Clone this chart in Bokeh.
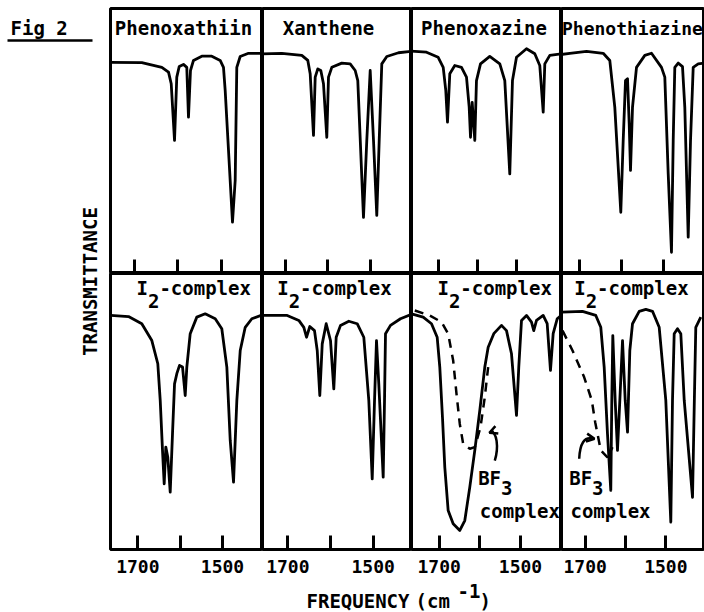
import math
from bokeh.plotting import figure
from bokeh.layouts import row, column
from bokeh.models import Range1d, FixedTicker, Label, Arrow, OpenHead
from bokeh.embed import file_html
from bokeh.resources import INLINE

FONT = "DejaVu Sans Mono"
FS = "19px"
CW = 11.44  # monospace advance in px at 19px

# ---------------- data (frequency cm-1, transmittance % of panel) ----------------
top_titles = ["Phenoxathiin", "Xanthene", "Phenoxazine", "Phenothiazine"]
complex_parts = ["I", "2", "-complex"]
bf3_parts = ["BF", "3", "complex"]
tick_values = [1700, 1600, 1500]
tick_text = ["1700", "", "1500"]
x_title_parts = ["FREQUENCY", "(cm", "-1", ")"]
y_title = "TRANSMITTANCE"
fig_title = "Fig 2"

phenoxathiin_f = [1758, 1683.2, 1637.2, 1621.8, 1615.6, 1608, 1602.8, 1597.2, 1587.4, 1579.8,
                  1575.9, 1571.3, 1564.4, 1545.3, 1522.3, 1503, 1495.4, 1491.5, 1474.7, 1468.5,
                  1464.8, 1457, 1437.9, 1400]
phenoxathiin_t = [79.7, 79.6, 77.8, 76, 71.6, 50.2, 74.1, 78.1, 78.9, 77.8,
                  59, 76.6, 80.4, 82, 82, 80.4, 77.8, 69.1, 19.4, 35.1,
                  77.8, 81.9, 83.1, 83.1]

xanthene_f = [1758, 1708.7, 1661.6, 1647.5, 1641.9, 1634.1, 1630.1, 1624, 1616.9, 1610.6,
              1602.8, 1598.8, 1591, 1567.5, 1547.8, 1536, 1529.9, 1516.5, 1508.7, 1500.7,
              1492.9, 1485.2, 1479.5, 1473.4, 1461.6, 1434.1, 1400]
xanthene_t = [82.9, 83.1, 82.3, 80.4, 75.4, 52.1, 74.1, 77.2, 76.6, 71.6,
              51.4, 74.1, 77.8, 79.4, 79.1, 76.6, 72.8, 21.2, 50.2, 76.6,
              50.2, 21.9, 50.2, 79.1, 81.9, 83.3, 83.9]

phenoxazine_f = [1772, 1730.8, 1700.8, 1687.9, 1681.3, 1676.9, 1671, 1658.2, 1641, 1628.2,
                 1621.3, 1617.9, 1613.6, 1606.9, 1602.6, 1592.3, 1568.5, 1542.8, 1530, 1517.2,
                 1510.3, 1500, 1474.4, 1453.1, 1440.3, 1431.5, 1427.4, 1414.6, 1385]
phenoxazine_t = [83.9, 83.5, 81.6, 77.8, 69.1, 57.1, 75.4, 78.5, 77.8, 74.1,
                 62.8, 51.4, 64.6, 50.2, 72.8, 79.1, 81.9, 79.1, 72.8, 37.6,
                 72.8, 81.6, 84.8, 82.9, 78.5, 60.9, 79.1, 82.3, 82.9]

phenothiazine_f = [1746, 1723.8, 1684, 1644.3, 1628.6, 1616.7, 1602.4, 1596.7, 1591.2, 1586.4,
                   1582.4, 1579.3, 1574.5, 1565, 1545.2, 1529.3, 1505.5, 1497.6, 1489.5, 1481.7,
                   1477.6, 1473.8, 1465.7, 1455.5, 1450, 1441.9, 1436.4, 1430, 1418.1, 1403.1]
phenothiazine_t = [82.6, 83.1, 83.8, 83.1, 80.4, 62.8, 23.1, 50.2, 72.8, 73.5,
                   56.5, 38.9, 62.8, 77.8, 82.3, 83.1, 77.8, 74.1, 37.6, 8,
                   50.2, 77.8, 79.4, 78.1, 62.8, 13.7, 50.2, 77.8, 79.1, 79.4]

phenoxathiin_i2_f = [1764, 1722, 1690.6, 1666.9, 1652.8, 1647.1, 1641.7, 1637.7, 1633.9, 1629.2,
                     1623.5, 1618.1, 1613.3, 1607.9, 1601.5, 1594.4, 1588.1, 1584.3, 1576.3, 1560.7,
                     1540.9, 1517.2, 1501.7, 1489.8, 1481.8, 1474, 1466.2, 1458.2, 1446.4, 1430.8,
                     1405]
phenoxathiin_i2_t = [84.8, 84.4, 81.8, 75.7, 67.3, 54, 35.9, 23.8, 37.1, 33.4,
                     20.8, 41.9, 60, 63.7, 66.7, 66.1, 55.8, 66.1, 78.2, 84.2,
                     85.4, 83.6, 80, 66.1, 39.5, 24.4, 54, 72.1, 80.5, 83.6,
                     85.1]

xanthene_i2_f = [1760, 1701.4, 1674.2, 1662.5, 1656.2, 1648.5, 1637.5, 1631.1, 1625.1, 1619.4,
                 1610.1, 1600, 1592.3, 1586.7, 1576.6, 1557.1, 1537.5, 1522, 1510.3, 1502.3,
                 1496.9, 1492.3, 1486.9, 1476.6, 1473.5, 1471.2, 1459.5, 1436.1, 1408]
xanthene_i2_t = [84.8, 84.8, 83, 80.5, 76.9, 80.8, 79.3, 72.1, 55.8, 74.5,
                 81.8, 75.7, 58.2, 76.9, 81.2, 82.7, 81.8, 76.9, 54, 25.6,
                 54, 75.7, 60, 26.2, 54, 78.2, 81.2, 83.6, 85.4]

phenoxazine_i2_f = [1768, 1739.4, 1718.9, 1704.9, 1698.5, 1691.9, 1686.2, 1677.9, 1665.6, 1649.3,
                    1637, 1624.7, 1612.4, 1600.1, 1587.8, 1579.5, 1565.7, 1546.7, 1534.4, 1522.1,
                    1509.8, 1504.2, 1497.5, 1485.2, 1472.9, 1467.3, 1460.6, 1444.2, 1434.3, 1426.2,
                    1419.6, 1409.7, 1395]
phenoxazine_i2_t = [85.4, 84.2, 81.8, 76.9, 66.1, 47.9, 29.8, 14.1, 9.3, 6.9,
                    10.5, 22.6, 35.9, 50.4, 66.1, 73.3, 78.2, 81.2, 79.3, 70.9,
                    48.6, 66.1, 83, 84.8, 82.4, 79.3, 83, 84.8, 81.8, 64.9,
                    78.2, 83.6, 85.4]
phenoxazine_bf3_f = [1760, 1723.1, 1694.3, 1677.9, 1665.6, 1657.4, 1649.3, 1641, 1624.7, 1612.4,
                     1598.4, 1587.8, 1579.5]
phenoxazine_bf3_t = [86.6, 84.8, 82.4, 78.2, 68.5, 56.4, 45.5, 38.3, 36.5, 37.1,
                     44.3, 55.2, 66.1]

phenothiazine_i2_f = [1758, 1706.7, 1673.7, 1661.3, 1652.9, 1644.7, 1636.5, 1634, 1631.5, 1625.6,
                      1619.9, 1614.1, 1607.4, 1600.7, 1595, 1589.3, 1582.6, 1566, 1549.5, 1533,
                      1516.4, 1500, 1487.6, 1483.4, 1479.2, 1471, 1462.8, 1454.3, 1433.7, 1429.2,
                      1425.6, 1413.2]
phenothiazine_i2_t = [86, 86.3, 84.8, 80.5, 66.1, 41.9, 21.4, 54, 77.5, 54,
                      35.9, 54, 75.7, 54, 42.5, 72.1, 81.8, 86.3, 87.0, 86.3,
                      80.5, 54, 9.9, 54, 78.2, 80, 78.2, 54, 18.9, 54,
                      80.5, 84.2]
phenothiazine_bf3_f = [1756.3, 1731.5, 1702.5, 1683.6, 1675.2, 1661.3, 1644.7, 1632.3]
phenothiazine_bf3_t = [79.3, 72.1, 62.4, 54, 46.1, 35.9, 33.4, 37.1]

top_series = [(phenoxathiin_f, phenoxathiin_t), (xanthene_f, xanthene_t),
              (phenoxazine_f, phenoxazine_t), (phenothiazine_f, phenothiazine_t)]
bottom_series = [(phenoxathiin_i2_f, phenoxathiin_i2_t), (xanthene_i2_f, xanthene_i2_t),
                 (phenoxazine_i2_f, phenoxazine_i2_t), (phenothiazine_i2_f, phenothiazine_i2_t)]
bf3_series = {2: (phenoxazine_bf3_f, phenoxazine_bf3_t), 3: (phenothiazine_bf3_f, phenothiazine_bf3_t)}

# ---------------- layout / styling ----------------
LEFT_W = 108
COL_W = [154, 149, 150, 143]          # first column includes a 2px left border
TOP_XR = [(1755.2, 1405.7), (1754.1, 1403.5), (1769.2, 1384.6), (1743.6, 1403.1)]
BOT_XR = [(1764.5, 1405.6), (1759.3, 1410.3), (1768.1, 1399.1), (1758.8, 1404.0)]
TOP_PAD = 8
TOP_FRAME_H = 265
BOT_FRAME_H = 276
AXIS_H = 31
TOTAL_H = 612
FREQ_H = TOTAL_H - TOP_PAD - TOP_FRAME_H - BOT_FRAME_H - AXIS_H
GRID_W = sum(COL_W)
LW = 2.8
BW = 3

TITLE_POS = [(1587.4, "center", FS), (1598.8, "center", FS), (1583.3, "center", FS),
             (1742.5, "left", "18px")]
COMPLEX_X = [1703.1, 1724.8, 1704.2, 1727.3]
BF3_POS = {2: (1604.1, 1600.1), 3: (1739.7, 1736.5)}


def txt(text, x, y, align="left", x_offset=0, angle=0.0, size=FS):
    return Label(x=x, y=y, text=text, text_font=FONT, text_font_size=size,
                 text_font_style="bold", text_color="black", text_align=align,
                 text_baseline="middle", x_offset=x_offset, angle=angle)


def panel(w, h, xr, labels, first):
    p = figure(width=w, height=h, x_range=Range1d(*xr), y_range=Range1d(0, 100),
               output_backend="svg", toolbar_location=None, tools="",
               y_axis_location=None, min_border=0)
    p.grid.visible = False
    p.background_fill_color = "white"
    p.border_fill_color = "white"
    p.outline_line_color = "black"
    p.outline_line_width = BW
    p.outline_line_alpha = 1.0
    if first:
        p.min_border_left = 2
    ax = p.xaxis[0]
    ax.ticker = FixedTicker(ticks=tick_values)
    ax.major_tick_in = 14
    ax.major_tick_out = 0
    ax.major_tick_line_width = 3
    ax.major_tick_line_color = "black"
    ax.minor_tick_line_color = None
    ax.axis_line_color = None
    if labels:
        ax.major_label_overrides = dict(zip(tick_values, tick_text))
        ax.major_label_text_font = FONT
        ax.major_label_text_font_size = "18px"
        ax.major_label_text_font_style = "bold"
        ax.major_label_text_color = "black"
        ax.major_label_standoff = 10
        p.min_border_bottom = AXIS_H
    else:
        ax.major_label_text_font_size = "0px"
        ax.major_label_standoff = 0
        ax.major_label_overrides = {v: "" for v in tick_values}
        p.min_border_top = TOP_PAD
    return p


tops, bots = [], []
for i in range(4):
    first = i == 0
    p = panel(COL_W[i], TOP_PAD + TOP_FRAME_H, TOP_XR[i], False, first)
    f, t = top_series[i]
    p.line(f, t, line_color="black", line_width=LW, line_join="round")
    tx, al, sz = TITLE_POS[i]
    p.add_layout(txt(top_titles[i], tx, 92.5, align=al, size=sz))
    tops.append(p)

    q = panel(COL_W[i], BOT_FRAME_H + AXIS_H, BOT_XR[i], True, first)
    f, t = bottom_series[i]
    q.line(f, t, line_color="black", line_width=LW, line_join="round")
    cx = COMPLEX_X[i]
    q.add_layout(txt(complex_parts[0], cx, 94.6))
    q.add_layout(txt(complex_parts[1], cx, 90.1, x_offset=CW))
    q.add_layout(txt(complex_parts[2], cx, 94.6, x_offset=2 * CW))
    if i in bf3_series:
        bf, bt = bf3_series[i]
        q.line(bf, bt, line_color="black", line_width=2.5, line_dash="9 7")
        bx, cxx = BF3_POS[i]
        q.add_layout(txt(bf3_parts[0], bx, 26.0))
        q.add_layout(txt(bf3_parts[1], bx, 22.4, x_offset=2 * CW))
        q.add_layout(txt(bf3_parts[2], cxx, 14.0))
    bots.append(q)

# curved arrows pointing from "BF3" labels to the dashed traces
bots[2].bezier(x0=[1563.2], y0=[32.2], x1=[1574.0], y1=[42.6],
               cx0=[1553.0], cy0=[37.0], cx1=[1558.0], cy1=[43.0],
               line_color="black", line_width=2.5)
bots[2].add_layout(Arrow(end=OpenHead(size=8, line_width=2.5, line_color="black"),
                         x_start=1566.0, y_start=42.9, x_end=1576.5, y_end=42.3,
                         line_width=2.5, line_color="black"))
bots[3].bezier(x0=[1714.9], y0=[32.9], x1=[1683.0], y1=[40.2],
               cx0=[1713.0], cy0=[38.5], cx1=[1702.0], cy1=[40.8],
               line_color="black", line_width=2.5)
bots[3].add_layout(Arrow(end=OpenHead(size=8, line_width=2.5, line_color="black"),
                         x_start=1690.0, y_start=40.4, x_end=1677.0, y_end=40.1,
                         line_width=2.5, line_color="black"))

# left margin: figure number and y title
left = figure(width=LEFT_W, height=TOTAL_H, x_range=Range1d(0, LEFT_W),
              y_range=Range1d(0, TOTAL_H), output_backend="svg",
              toolbar_location=None, tools="", min_border=0,
              x_axis_location=None, y_axis_location=None)
left.grid.visible = False
left.outline_line_color = None
left.add_layout(txt(fig_title, 10, 585))
left.segment(x0=[7], y0=[572], x1=[92], y1=[572], line_color="black", line_width=2.5)
left.add_layout(txt(y_title, 89, 331, align="center", angle=math.pi / 2))

# bottom strip: x title
freq = figure(width=GRID_W, height=FREQ_H, x_range=Range1d(0, GRID_W),
              y_range=Range1d(0, FREQ_H), output_backend="svg",
              toolbar_location=None, tools="", min_border=0,
              x_axis_location=None, y_axis_location=None)
freq.grid.visible = False
freq.outline_line_color = None
freq.add_layout(txt(x_title_parts[0], 198, 11.5))
freq.add_layout(txt(x_title_parts[1], 307, 11.5))
freq.add_layout(txt(x_title_parts[2], 349, FREQ_H - 10.5))
freq.add_layout(txt(x_title_parts[3], 371, 11.5))

layout = row(left, column(row(*tops), row(*bots), freq))

open("out.html", "w").write(file_html(layout, INLINE))
